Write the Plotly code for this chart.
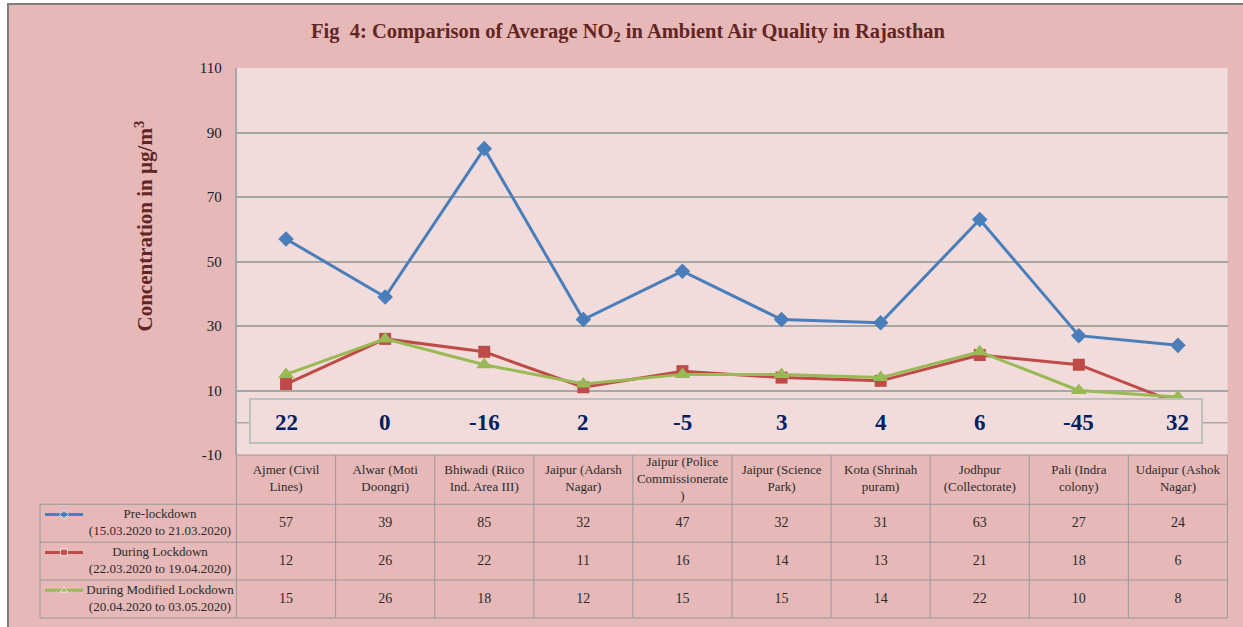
import plotly.graph_objects as go

# ---- data -----------------------------------------------------------------
SITES = [
    "Ajmer (Civil<br>Lines)",
    "Alwar (Moti<br>Doongri)",
    "Bhiwadi (Riico<br>Ind. Area III)",
    "Jaipur (Adarsh<br>Nagar)",
    "Jaipur (Police<br>Commissionerate<br>)",
    "Jaipur (Science<br>Park)",
    "Kota (Shrinah<br>puram)",
    "Jodhpur<br>(Collectorate)",
    "Pali (Indra<br>colony)",
    "Udaipur (Ashok<br>Nagar)",
]
PRE_LOCKDOWN = [57, 39, 85, 32, 47, 32, 31, 63, 27, 24]
DURING_LOCKDOWN = [12, 26, 22, 11, 16, 14, 13, 21, 18, 6]
MODIFIED_LOCKDOWN = [15, 26, 18, 12, 15, 15, 14, 22, 10, 8]
CHANGE_PCT = [22, 0, -16, 2, -5, 3, 4, 6, -45, 32]

SERIES_LABELS = [
    "Pre-lockdown<br>(15.03.2020 to 21.03.2020)",
    "During Lockdown<br>(22.03.2020 to 19.04.2020)",
    "During Modified Lockdown<br>(20.04.2020 to 03.05.2020)",
]
Y_TICKS = [-10, 10, 30, 50, 70, 90, 110]
Y_TICK_TEXT = ["-10", "10", "30", "50", "70", "90", "110"]

# ---- style ----------------------------------------------------------------
W, H = 1243, 627
SERIF = "Times New Roman, Liberation Serif, serif"
OUTER_BG = "#E6B8B7"
PLOT_BG = "#F2DCDB"
GRID = "#A6A6A6"
TITLE_RED = "#632523"
NAVY = "#002060"
TEXT = "#2b2b2b"
COLORS = ["#4A7EBB", "#BE4B48", "#98B954"]
SYMBOLS = ["diamond", "square", "triangle-up"]
SIZES = [12, 12, 14]

# pixel layout of the plot area and the data table
PLOT_L, PLOT_R, PLOT_T, PLOT_B = 236.5, 1227.5, 68, 455
TABLE_L, TABLE_B = 40, 618
COL_W = (PLOT_R - PLOT_L) / len(SITES)
HDR = 1.3  # header row height in table units
ROW_PX = (TABLE_B - PLOT_B) / (HDR + 3)
PAD = 0.03


def fx(x):
    return x / W


def fy(y):
    return 1 - y / H


x2_lo = -0.5 - (PLOT_L - TABLE_L) / COL_W
x2_range = [x2_lo - PAD, len(SITES) - 0.5 + PAD]
x2_domain = [fx(TABLE_L - PAD * COL_W), fx(PLOT_R + PAD * COL_W)]
y2_range = [HDR + 3 + PAD * 3, -PAD * 3]
y2_domain = [fy(TABLE_B + PAD * 3 * ROW_PX), fy(PLOT_B - PAD * 3 * ROW_PX)]

idx = list(range(len(SITES)))
fig = go.Figure()

for values, color, symbol, size in zip(
    [PRE_LOCKDOWN, DURING_LOCKDOWN, MODIFIED_LOCKDOWN], COLORS, SYMBOLS, SIZES
):
    fig.add_trace(
        go.Scatter(
            x=idx,
            y=values,
            mode="lines+markers",
            line={"color": color, "width": 3},
            marker={"symbol": symbol, "size": size, "color": color},
            xaxis="x",
            yaxis="y",
        )
    )

# ---- data table under the chart -------------------------------------------
fig.add_trace(
    go.Scatter(
        x=idx,
        y=[HDR / 2] * len(SITES),
        mode="text",
        text=SITES,
        textfont={"family": SERIF, "size": 13, "color": TEXT},
        xaxis="x2",
        yaxis="y2",
    )
)

sample_x = [x2_lo + (45 - TABLE_L) / COL_W, x2_lo + (64 - TABLE_L) / COL_W, x2_lo + (83 - TABLE_L) / COL_W]
label_x = -0.5 + (160 - PLOT_L) / COL_W
for row, (values, label, color, symbol) in enumerate(
    zip([PRE_LOCKDOWN, DURING_LOCKDOWN, MODIFIED_LOCKDOWN], SERIES_LABELS, COLORS, SYMBOLS)
):
    top = HDR + row
    fig.add_trace(
        go.Scatter(
            x=idx,
            y=[top + 0.5] * len(values),
            mode="text",
            text=[str(v) for v in values],
            textfont={"family": SERIF, "size": 14, "color": TEXT},
            xaxis="x2",
            yaxis="y2",
        )
    )
    fig.add_trace(
        go.Scatter(
            x=[label_x],
            y=[top + 0.5],
            mode="text",
            text=[label],
            textfont={"family": SERIF, "size": 13, "color": TEXT},
            xaxis="x2",
            yaxis="y2",
        )
    )
    fig.add_trace(
        go.Scatter(
            x=sample_x,
            y=[top + 0.27] * 3,
            mode="lines+markers",
            line={"color": color, "width": 3},
            marker={"symbol": symbol, "size": [0, 7, 0], "color": color},
            xaxis="x2",
            yaxis="y2",
        )
    )

shapes = [
    # white strip + border of the outer frame
    {"type": "rect", "xref": "paper", "yref": "paper", "x0": 0, "x1": 1, "y0": 0, "y1": 1,
     "fillcolor": "white", "line": {"width": 0}, "layer": "below"},
    {"type": "rect", "xref": "paper", "yref": "paper", "x0": fx(8), "x1": 1.02, "y0": -0.02, "y1": fy(4),
     "fillcolor": OUTER_BG, "line": {"color": "#7F7F7F", "width": 2}, "layer": "below"},
    {"type": "rect", "xref": "x domain", "yref": "y domain", "x0": 0, "x1": 1, "y0": 0, "y1": 1,
     "fillcolor": PLOT_BG, "line": {"width": 0}, "layer": "below"},
    # faint line at zero, mostly hidden by the box
    {"type": "line", "xref": "x domain", "yref": "y", "x0": 0, "x1": 1, "y0": 0, "y1": 0,
     "line": {"color": GRID, "width": 1.5}, "layer": "below"},
    # percentage change box
    {"type": "rect", "xref": "x", "yref": "y",
     "x0": -0.5 + (250 - PLOT_L) / COL_W, "x1": -0.5 + (1202 - PLOT_L) / COL_W,
     "y0": -6.3, "y1": 7.4,
     "fillcolor": PLOT_BG, "line": {"color": "#BFBFBF", "width": 2}, "layer": "above"},
]

table_line = {"color": "#9A9A9A", "width": 1}
n = len(SITES)
shapes.append({"type": "line", "xref": "x2", "yref": "y2", "x0": -0.5, "x1": n - 0.5,
               "y0": 0, "y1": 0, "line": table_line})
for yb in [HDR, HDR + 1, HDR + 2, HDR + 3]:
    shapes.append({"type": "line", "xref": "x2", "yref": "y2", "x0": x2_lo, "x1": n - 0.5,
                   "y0": yb, "y1": yb, "line": table_line})
for i in range(n + 1):
    shapes.append({"type": "line", "xref": "x2", "yref": "y2", "x0": i - 0.5, "x1": i - 0.5,
                   "y0": 0, "y1": HDR + 3, "line": table_line})
shapes.append({"type": "line", "xref": "x2", "yref": "y2", "x0": x2_lo, "x1": x2_lo,
               "y0": HDR, "y1": HDR + 3, "line": table_line})

annotations = [
    {"text": "<b>Fig  4: Comparison of Average NO<sub>2</sub> in Ambient Air Quality in Rajasthan</b>",
     "xref": "paper", "yref": "paper", "x": fx(628), "y": fy(32), "yanchor": "middle", "showarrow": False,
     "font": {"family": SERIF, "size": 20.5, "color": TITLE_RED}},
    {"text": "<b>Concentration in \u00b5g/m<sup>3</sup></b>",
     "xref": "paper", "yref": "paper", "x": fx(128), "y": fy(226), "showarrow": False,
     "textangle": -90, "font": {"family": SERIF, "size": 21, "color": TITLE_RED}},
]
for i, change in zip(idx, CHANGE_PCT):
    annotations.append(
        {"text": f"<b>{change}</b>", "xref": "x", "yref": "y", "x": i, "y": 0, "showarrow": False,
         "font": {"family": SERIF, "size": 23, "color": NAVY}}
    )

fig.update_layout(
    template="none",
    width=W,
    height=H,
    autosize=False,
    margin={"l": 0, "r": 0, "t": 0, "b": 0, "pad": 0, "autoexpand": False},
    paper_bgcolor=OUTER_BG,
    plot_bgcolor="rgba(0,0,0,0)",
    showlegend=False,
    shapes=shapes,
    annotations=annotations,
    xaxis={
        "domain": [fx(PLOT_L), fx(PLOT_R)],
        "range": [-0.5, n - 0.5],
        "showgrid": False,
        "showticklabels": False,
        "showline": False,
        "ticks": "",
        "zeroline": False,
        "automargin": False,
    },
    yaxis={
        "domain": [fy(PLOT_B), fy(PLOT_T)],
        "range": [-10, 110],
        "tickvals": Y_TICKS,
        "ticktext": Y_TICK_TEXT,
        "ticks": "",
        "showgrid": True,
        "gridcolor": GRID,
        "gridwidth": 1.5,
        "zeroline": False,
        "showline": True,
        "linecolor": GRID,
        "linewidth": 1.5,
        "automargin": False,
        "ticklabelstandoff": 10,
        "tickfont": {"family": SERIF, "size": 15, "color": "#1a1a1a"},
    },
    xaxis2={
        "domain": x2_domain,
        "range": x2_range,
        "anchor": "y2",
        "visible": False,
        "automargin": False,
    },
    yaxis2={
        "domain": y2_domain,
        "range": y2_range,
        "anchor": "x2",
        "visible": False,
        "automargin": False,
    },
)

# drop the default page margin so the figure sits at the window's top-left corner
fig.write_html(
    "out.html",
    config={"displayModeBar": False},
    post_script="document.body.style.margin = '0';",
)
